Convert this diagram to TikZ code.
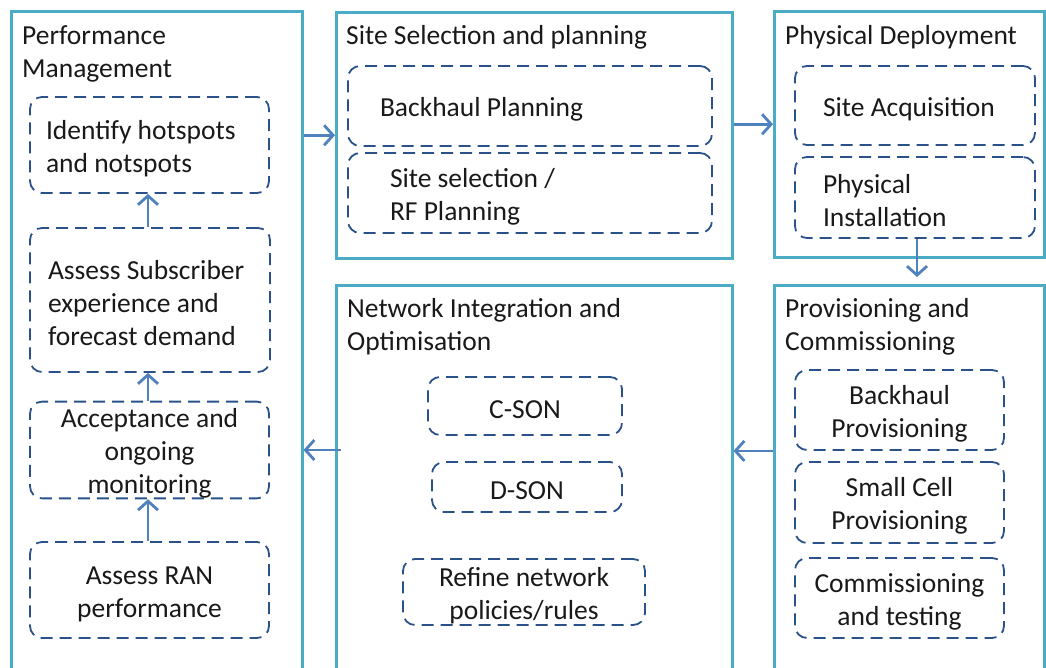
\documentclass[tikz,border=0pt]{standalone}
\usepackage{fontspec}
\setmainfont{Carlito}
\usetikzlibrary{arrows.meta}
\definecolor{stageline}{HTML}{4BACC6}
\definecolor{taskline}{HTML}{2A5189}
\definecolor{flowline}{HTML}{4F81BD}
\tikzset{
    stage/.style={draw=stageline, line width=2.5pt, anchor=north west, inner sep=0pt},
    stagetitle/.style={anchor=north west, align=left, inner sep=0pt, text=black!90,
        font=\fontsize{27.5}{33}\selectfont},
    task/.style={draw=taskline, line width=1.8pt, dash pattern=on 12pt off 7pt,
        rounded corners=12pt, align=flush center, inner sep=0pt, text=black!90,
        font=\fontsize{27.5}{33}\selectfont, execute at begin node={\rule{0pt}{26pt}}},
    flow/.style={draw=flowline, line width=2.8pt, -{Straight Barb[length=9pt,width=20pt]}},
}

\begin{document}
\begin{tikzpicture}[x=1pt,y=-1pt]
\useasboundingbox (0,0) rectangle (1046,667);

% the five stages
\node[stage, minimum width=291pt, minimum height=680pt] (perf) at (10,10) {};
\node[stage, minimum width=396pt, minimum height=246pt] (site) at (335,11) {};
\node[stage, minimum width=270pt, minimum height=246pt] (phys) at (773,10) {};
\node[stage, minimum width=396pt, minimum height=400pt] (net) at (335,284) {};
\node[stage, minimum width=270pt, minimum height=400pt] (prov) at (773,284) {};

\node[stagetitle] (perft) at ([shift={(12,15)}]perf.north west) {Performance\\Management};
\node[stagetitle] (sitet) at ([shift={(11,14)}]site.north west) {Site Selection and planning};
\node[stagetitle] (physt) at ([shift={(12,15)}]phys.north west) {Physical Deployment};
\node[stagetitle] (nett) at ([shift={(12,14)}]net.north west) {Network Integration and\\Optimisation};
\node[stagetitle] (provt) at ([shift={(12,14)}]prov.north west) {Provisioning and\\Commissioning};

% performance management
\node[task, minimum width=239pt, minimum height=96pt, align=flush left, text width=207pt] (idh) at (149.5,145) {Identify hotspots\\and notspots};
\node[task, minimum width=240pt, minimum height=144pt, align=flush left, text width=204pt] (asd) at (150,300) {Assess Subscriber\\experience and\\forecast demand};
\node[task, minimum width=239pt, minimum height=96pt, text width=207pt] (acc) at (149.5,450) {Acceptance and\\ongoing\\monitoring};
\node[task, minimum width=239pt, minimum height=96pt, text width=207pt] (ran) at (149.5,590) {Assess RAN\\performance};

% site selection
\node[task, minimum width=364pt, minimum height=80pt, align=flush left, text width=300pt] (bhp) at (530,106) {Backhaul Planning};
\node[task, minimum width=364pt, minimum height=80pt, align=flush left, text width=280pt] (ssl) at (530,193) {Site selection /\\RF Planning};

% physical deployment
\node[task, minimum width=240pt, minimum height=79pt, align=flush left, text width=184pt] (acq) at (915,105.5) {Site Acquisition};
\node[task, minimum width=240pt, minimum height=81pt, align=flush left, text width=184pt] (ins) at (915,197.5) {Physical\\Installation};

% provisioning
\node[task, minimum width=209pt, minimum height=80pt, text width=190pt] (bpr) at (899.5,410) {Backhaul\\Provisioning};
\node[task, minimum width=209pt, minimum height=81pt, text width=190pt] (scp) at (899.5,502.5) {Small Cell\\Provisioning};
\node[task, minimum width=209pt, minimum height=80pt, text width=190pt] (com) at (899.5,598) {Commissioning\\and testing};

% network integration
\node[task, minimum width=194pt, minimum height=58pt, text width=170pt] (cson) at (525,406) {C-SON};
\node[task, minimum width=190pt, minimum height=50pt, text width=170pt] (dson) at (527,487) {D-SON};
\node[task, minimum width=242pt, minimum height=66pt, text width=220pt] (rfn) at (524,592) {Refine network\\policies/rules};

% flow between stages
\draw[flow] (perf.east |- site.west) -- (site.west);
\draw[flow] ([yshift=11pt]site.east) -- ([yshift=11pt]site.east -| phys.west);
\draw[flow, shorten >=7pt] ([xshift=2pt]ins.south) -- ([xshift=2pt]ins.south |- prov.north);
\draw[flow] (prov.west |- bpr.south) -- (net.east |- bpr.south);
\draw[flow, shorten <=-6pt] (net.west |- acc) -- (perf.east |- acc);

% loop inside performance management
\draw[flow] ([xshift=-1.5pt]ran.north) -- ([xshift=-1.5pt]acc.south);
\draw[flow] ([xshift=-1.5pt]acc.north) -- ([xshift=-2pt]asd.south);
\draw[flow] ([xshift=-2pt]asd.north) -- ([xshift=-1.5pt]idh.south);
\end{tikzpicture}
\end{document}
